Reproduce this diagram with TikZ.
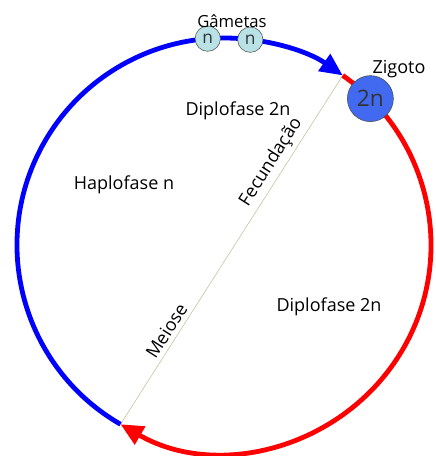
\documentclass[tikz,border=0pt]{standalone}
\usepackage{fontspec}
\setmainfont{Open Sans}
\usetikzlibrary{arrows.meta}

\definecolor{haplo}{RGB}{0,0,255}
\definecolor{diplo}{RGB}{255,0,0}
\definecolor{diag}{RGB}{196,188,150}
\definecolor{gamfill}{RGB}{184,226,230}
\definecolor{zigfill}{RGB}{66,106,240}

\tikzset{
  phase/.style={text=black, font=\fontsize{13.5}{16}\selectfont},
  cell/.style={circle, draw=black!70, thin, inner sep=0pt, text=black!80},
  gamete/.style={cell, fill=gamfill, minimum size=19pt, font=\fontsize{13}{15}\selectfont},
  zygote/.style={cell, fill=zigfill, minimum size=34.5pt, font=\fontsize{17}{20}\selectfont},
  tip/.style={-{Triangle[length=17pt,width=15pt]}}
}

\begin{document}
\begin{tikzpicture}[x=0.75pt,y=0.75pt]
\useasboundingbox (0,0) rectangle (435,456);
\coordinate (C) at (224,211);
\coordinate (meio) at ([shift={(C)}]240:155.25pt);
\coordinate (fecund) at ([shift={(C)}]55:155.25pt);

% fases
\draw [diag, thin] (meio) -- node [sloped, above, pos=0.25, phase] {Meiose}
                      node [sloped, above, pos=0.73, phase] {Fecundação} (fecund);
\draw [haplo, line width=3.6pt, tip] (meio) arc [start angle=240, end angle=55, radius=155.25pt];
\draw [diplo, line width=3.6pt, tip] (fecund) arc [start angle=55, end angle=-120, radius=155.25pt];

% celulas
\node [gamete] (g1) at ([shift={(C)}]94.5:155.25pt) {n};
\node [gamete] (g2) at ([shift={(C)}]82.7:155.25pt) {n};
\node [zygote] (z) at ([shift={(C)}]45:155.25pt) {2n};

\node [phase, font=\fontsize{12.5}{15}\selectfont] (gam) at (232,435) {Gâmetas};
\node [phase] (zig) at (399,387) {Zigoto};
\node [phase] (d1) at (238,345) {Diplofase 2n};
\node [phase] (h) at (124,271) {Haplofase n};
\node [phase] (d2) at (329,149) {Diplofase 2n};
\end{tikzpicture}
\end{document}
